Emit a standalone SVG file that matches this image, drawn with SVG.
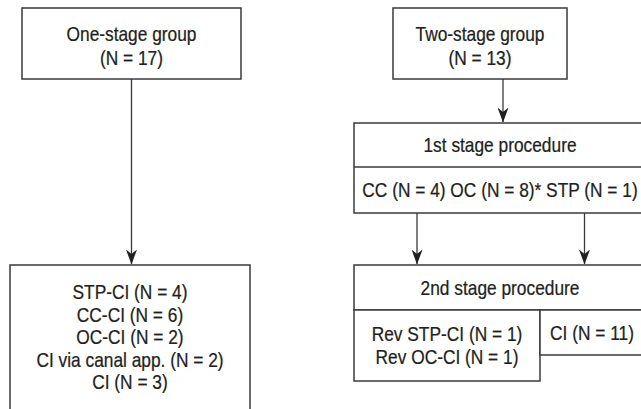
<svg xmlns="http://www.w3.org/2000/svg" width="641" height="409" viewBox="0 0 641 409">
<style>
.box{fill:#fff;stroke:#3a3a3a;stroke-width:1.5}
.ln{fill:none;stroke:#3a3a3a;stroke-width:1.3}
.t{font-family:"Liberation Sans",Arial,sans-serif;font-size:20.5px;fill:#231f20;stroke:#231f20;stroke-width:0.25;text-anchor:middle}
</style>
<defs>
<marker id="ah" markerUnits="userSpaceOnUse" viewBox="0 0 15 11" markerWidth="15" markerHeight="11" refX="14.5" refY="5.5" orient="auto">
<path d="M0,0 L15,5.5 L0,11 L4.5,5.5 Z" fill="#231f20"/>
</marker>
</defs>
<rect width="641" height="409" fill="#fff"/>
<g id="connectors">
<line class="ln" x1="131.5" y1="79" x2="131.5" y2="264" marker-end="url(#ah)"/>
<line class="ln" x1="503" y1="79" x2="503" y2="122" marker-end="url(#ah)"/>
<line class="ln" x1="417" y1="213" x2="417" y2="264" marker-end="url(#ah)"/>
<line class="ln" x1="584.5" y1="213" x2="584.5" y2="264" marker-end="url(#ah)"/>
</g>
<g id="one-stage">
<rect class="box" x="22" y="8" width="219" height="71"/>
<text class="t" transform="translate(131.5,40.5) scale(0.845,1)">One-stage group</text>
<text class="t" transform="translate(131.5,64.5) scale(0.845,1)">(N = 17)</text>
</g>
<g id="one-stage-procedures">
<path class="box" d="M10,412 V265 H250 V412"/>
<text class="t" transform="translate(130,299) scale(0.845,1)">STP-CI (N = 4)</text>
<text class="t" transform="translate(130,321.5) scale(0.845,1)">CC-CI (N = 6)</text>
<text class="t" transform="translate(130,344) scale(0.845,1)">OC-CI (N = 2)</text>
<text class="t" transform="translate(130,366.5) scale(0.845,1)">CI via canal app. (N = 2)</text>
<text class="t" transform="translate(130,389) scale(0.845,1)">CI (N = 3)</text>
</g>
<g id="two-stage">
<rect class="box" x="393" y="8" width="174" height="71"/>
<text class="t" transform="translate(480,40.5) scale(0.845,1)">Two-stage group</text>
<text class="t" transform="translate(480,64.5) scale(0.845,1)">(N = 13)</text>
</g>
<g id="first-stage">
<rect class="box" x="354" y="123" width="300" height="90"/>
<line class="box" x1="354" y1="167" x2="654" y2="167"/>
<text class="t" transform="translate(500,152) scale(0.845,1)">1st stage procedure</text>
<text class="t" transform="translate(500,197) scale(0.845,1)">CC (N = 4) OC (N = 8)* STP (N = 1)</text>
</g>
<g id="second-stage">
<rect class="box" x="354" y="265" width="300" height="45"/>
<text class="t" transform="translate(500,295) scale(0.845,1)">2nd stage procedure</text>
</g>
<g id="rev">
<rect class="box" x="354" y="310" width="186" height="71"/>
<text class="t" transform="translate(447,341) scale(0.845,1)">Rev STP-CI (N = 1)</text>
<text class="t" transform="translate(447,364) scale(0.845,1)">Rev OC-CI (N = 1)</text>
</g>
<g id="ci">
<rect class="box" x="540" y="310" width="114" height="45"/>
<text class="t" transform="translate(592,340) scale(0.845,1)">CI (N = 11)</text>
</g>
</svg>
